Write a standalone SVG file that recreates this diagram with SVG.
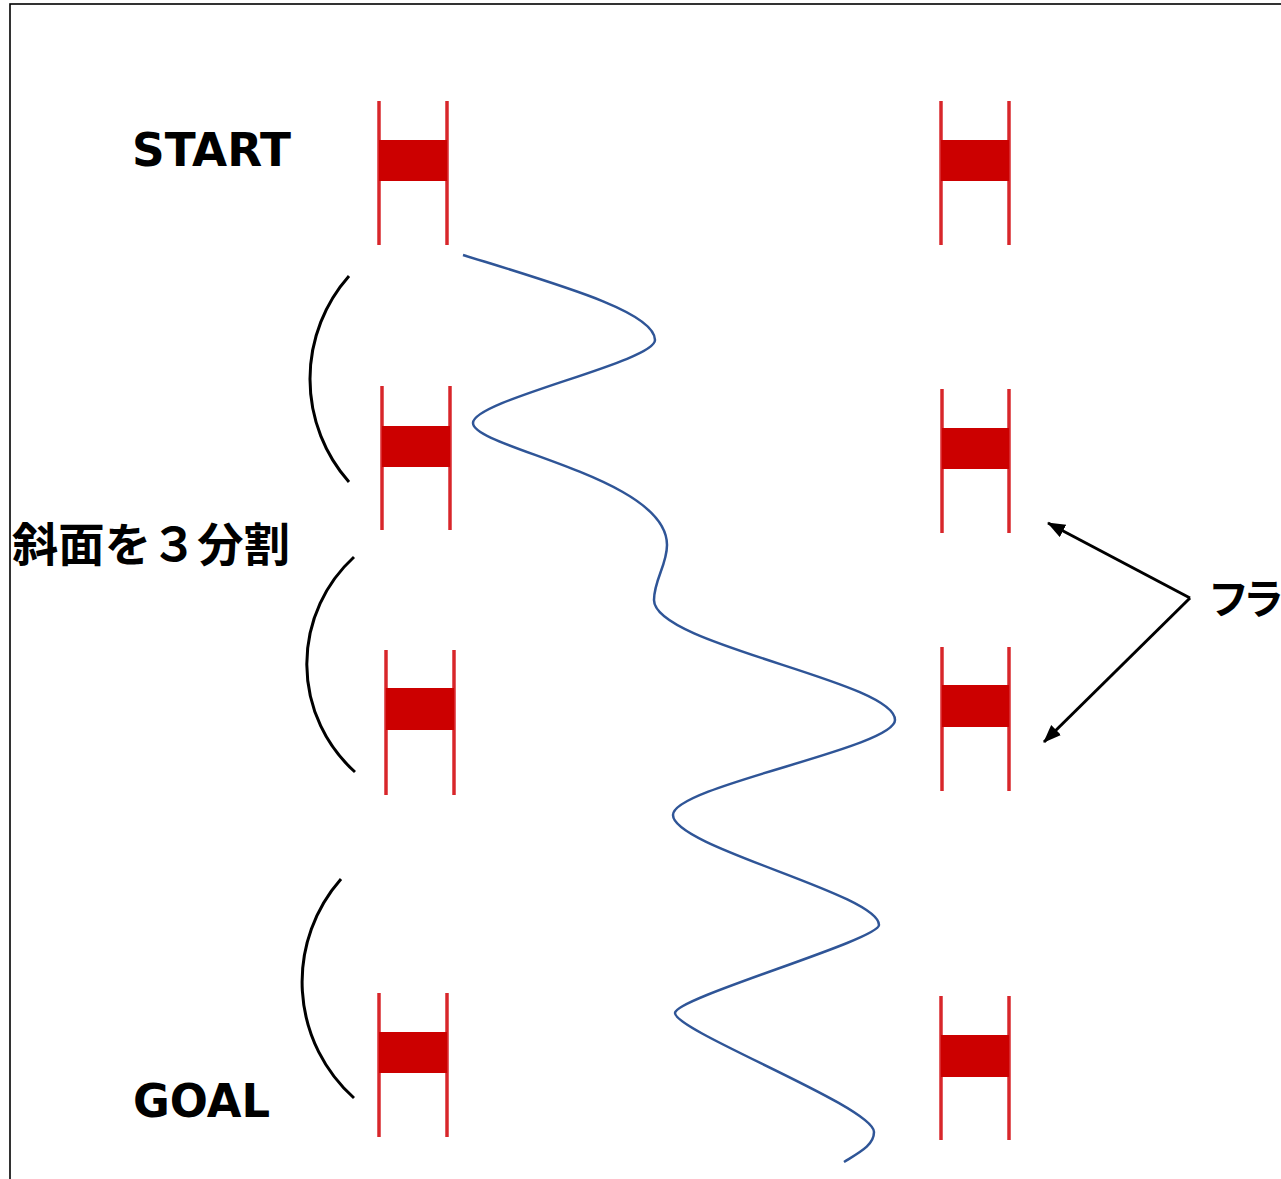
<svg xmlns="http://www.w3.org/2000/svg" width="1281" height="1179" viewBox="0 0 1281 1179">
<style>
.pole{stroke:#D8262B;stroke-width:3.5;fill:none}
.bar{fill:#CC0000}
.lbl{font-family:"DejaVu Sans","Liberation Sans",sans-serif;font-weight:bold;fill:#000}
.jp{font-family:"Noto Sans CJK JP","Noto Sans CJK SC",sans-serif;font-weight:bold;fill:#000}
.arc{stroke:#000;stroke-width:3;fill:none}
.arr{stroke:#000;stroke-width:3;fill:none;marker-end:url(#ah)}
</style>
<defs>
<marker id="ah" markerUnits="userSpaceOnUse" markerWidth="20" markerHeight="16" refX="17" refY="7" orient="auto">
<path d="M0,0 L18,7 L0,14 Z" fill="#000"/>
</marker>
<filter id="soft" x="-10%" y="-10%" width="120%" height="120%"><feGaussianBlur stdDeviation="0.6"/></filter>
</defs>
<rect x="0" y="0" width="1281" height="1179" fill="#fff"/>
<rect x="10" y="4" width="1300" height="1200" fill="none" stroke="#000" stroke-width="1.6"/>

<g id="flag-start-left" filter="url(#soft)"><line class="pole" x1="379" y1="101" x2="379" y2="245"/><line class="pole" x1="447" y1="101" x2="447" y2="245"/><rect class="bar" x="379" y="140" width="68" height="41"/></g>
<g id="flag-start-right" filter="url(#soft)"><line class="pole" x1="941" y1="101" x2="941" y2="245"/><line class="pole" x1="1009" y1="101" x2="1009" y2="245"/><rect class="bar" x="941" y="140" width="68" height="41"/></g>
<g id="flag-2-left" filter="url(#soft)"><line class="pole" x1="382" y1="386" x2="382" y2="530"/><line class="pole" x1="450" y1="386" x2="450" y2="530"/><rect class="bar" x="382" y="426" width="68" height="41"/></g>
<g id="flag-2-right" filter="url(#soft)"><line class="pole" x1="942" y1="389" x2="942" y2="533"/><line class="pole" x1="1009" y1="389" x2="1009" y2="533"/><rect class="bar" x="942" y="428" width="67" height="41"/></g>
<g id="flag-3-left" filter="url(#soft)"><line class="pole" x1="386" y1="650" x2="386" y2="795"/><line class="pole" x1="454" y1="650" x2="454" y2="795"/><rect class="bar" x="386" y="688" width="68" height="42"/></g>
<g id="flag-3-right" filter="url(#soft)"><line class="pole" x1="942" y1="647" x2="942" y2="791"/><line class="pole" x1="1009" y1="647" x2="1009" y2="791"/><rect class="bar" x="942" y="685" width="67" height="42"/></g>
<g id="flag-goal-left" filter="url(#soft)"><line class="pole" x1="379" y1="993" x2="379" y2="1137"/><line class="pole" x1="447" y1="993" x2="447" y2="1137"/><rect class="bar" x="379" y="1032" width="68" height="41"/></g>
<g id="flag-goal-right" filter="url(#soft)"><line class="pole" x1="941" y1="996" x2="941" y2="1140"/><line class="pole" x1="1009" y1="996" x2="1009" y2="1140"/><rect class="bar" x="941" y="1035" width="68" height="42"/></g>

<g id="course">
<path d="M463,255 C560,285 655,312 655,340 C655,362 473,400 473,423 C473,448 667,477 667,545 C667,565 654,580 654,600 C654,645 895,681 895,720 C895,748 673,786 673,815 C673,847 879,894 879,925 C879,940 675,998 675,1013 C675,1031 874,1107 874,1132 C874,1145 860,1152 844,1162" fill="none" stroke="#2F5597" stroke-width="2.5"/>
</g>

<g id="sections">
<path class="arc" d="M349,276 A155.5,155.5 0 0 0 349,482"/>
<path class="arc" d="M354,557 A145,145 0 0 0 355,772"/>
<path class="arc" d="M341,879 A155.7,155.7 0 0 0 354,1098"/>
</g>

<g id="connectors">
<line class="arr" x1="1190" y1="598" x2="1048" y2="523"/>
<line class="arr" x1="1190" y1="598" x2="1044" y2="742"/>
</g>

<g id="labels">
<text class="lbl" x="132" y="166" font-size="46" textLength="159" lengthAdjust="spacingAndGlyphs">START</text>
<text class="lbl" x="133" y="1117" font-size="46" textLength="137" lengthAdjust="spacingAndGlyphs">GOAL</text>
<text class="jp" x="12" y="561" font-size="46" textLength="278" lengthAdjust="spacingAndGlyphs">斜面を３分割</text>
<text class="jp" x="1208" y="614" font-size="41" letter-spacing="-6">フラ</text>
</g>
</svg>
